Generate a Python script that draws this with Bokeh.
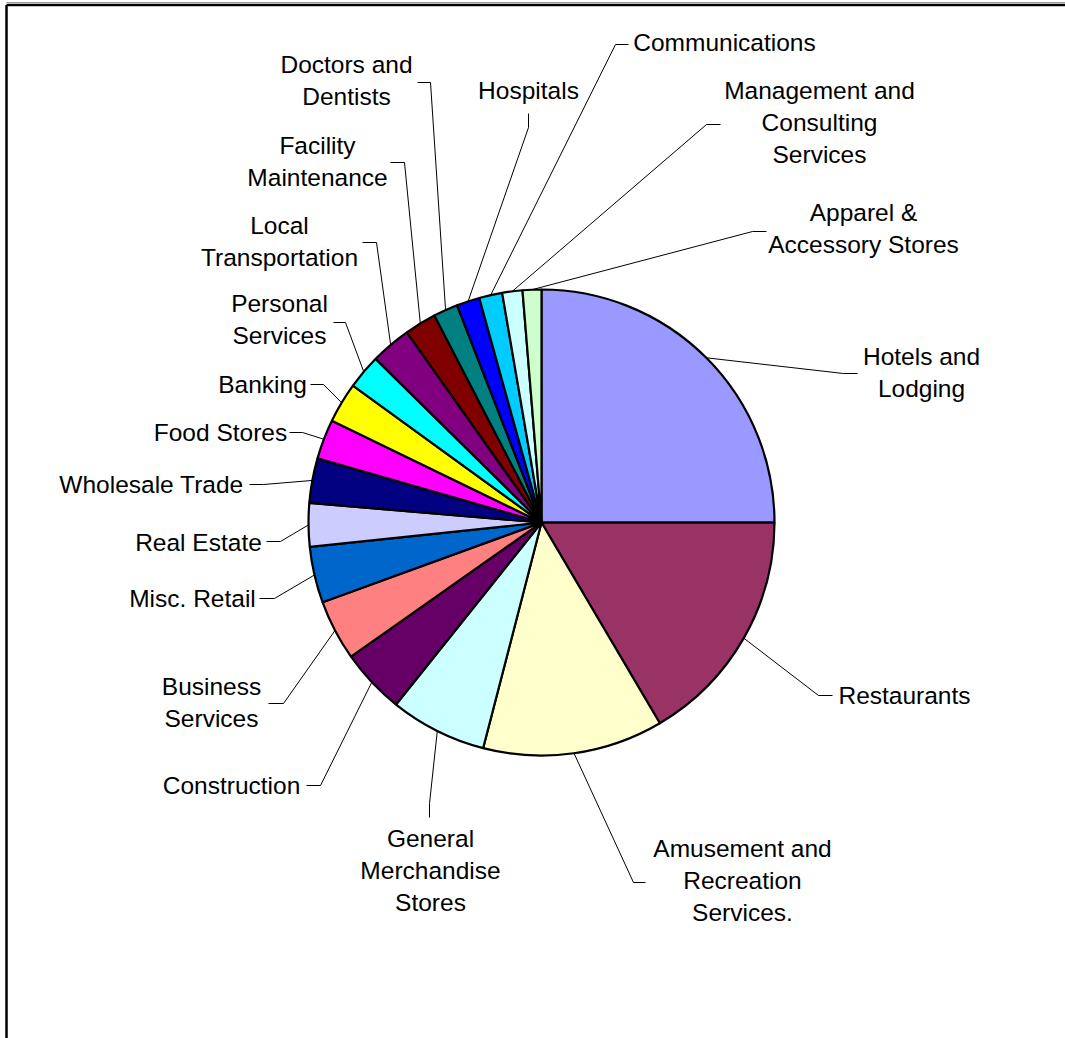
import math
from bokeh.plotting import figure
from bokeh.models import Range1d
from bokeh.core.properties import value
from bokeh.embed import file_html
from bokeh.resources import INLINE

# Share of establishments by industry (percent), clockwise from 12 o'clock
industries = [
    "Hotels and Lodging", "Restaurants", "Amusement and Recreation Services.",
    "General Merchandise Stores", "Construction", "Business Services",
    "Misc. Retail", "Real Estate", "Wholesale Trade", "Food Stores", "Banking",
    "Personal Services", "Local Transportation", "Facility Maintenance",
    "Doctors and Dentists", "Hospitals", "Communications",
    "Management and Consulting Services", "Apparel & Accessory Stores",
]
shares = [25.0, 16.5, 12.5, 6.7, 4.5, 4.2, 3.9, 3.0, 3.1, 2.75, 2.8,
          2.4, 2.8, 2.2, 1.7, 1.6, 1.6, 1.4, 1.3]
colors = ["#9999FF", "#993366", "#FFFFCC", "#CCFFFF", "#660066", "#FF8080",
          "#0066CC", "#CCCCFF", "#000080", "#FF00FF", "#FFFF00", "#00FFFF",
          "#800080", "#800000", "#008080", "#0000FF", "#00CCFF", "#CCFFFF",
          "#CCFFCC"]
label_lines = [
    ["Hotels and", "Lodging"], ["Restaurants"],
    ["Amusement and", "Recreation", "Services."],
    ["General", "Merchandise", "Stores"], ["Construction"],
    ["Business", "Services"], ["Misc. Retail"], ["Real Estate"],
    ["Wholesale Trade"], ["Food Stores"], ["Banking"],
    ["Personal", "Services"], ["Local", "Transportation"],
    ["Facility", "Maintenance"], ["Doctors and", "Dentists"], ["Hospitals"],
    ["Communications"], ["Management and", "Consulting", "Services"],
    ["Apparel &", "Accessory Stores"],
]

# Layout (page pixels, y downward)
W, H = 1065, 1038
CX, CY, R = 541, 522, 233
LINE_H = 32
label_pos = [(921, 356), (904, 695), (742, 848), (430, 838), (231, 785),
             (211, 686), (192, 598), (198, 542), (151, 484), (220, 432),
             (262, 384), (279, 303), (279, 225), (317, 145), (346, 64),
             (528, 90), (724, 42), (819, 90), (863, 212)]
elbows = [(843, 373), (818, 695), (633, 882), (429, 803), (320, 785),
          (283, 703), (274, 598), (280, 541), (263, 484), (302, 432),
          (323, 384), (345, 322), (376, 242), (404, 162), (430, 82),
          (528, 127), (615, 44), (706, 124), (752, 231)]
tails = [(857, 373), (832, 695), (645, 882), (429, 817), (306, 785),
         (268, 703), (259, 598), (266, 541), (249, 484), (289, 432),
         (310, 384), (333, 322), (362, 242), (390, 162), (417, 82),
         (528, 113), (628, 44), (720, 124), (766, 231)]


def fy(y):
    return H - y


p = figure(width=W, height=H, x_range=Range1d(0, W), y_range=Range1d(0, H),
           output_backend="svg", toolbar_location=None, min_border=0)
p.axis.visible = False
p.grid.visible = False
p.outline_line_color = None
p.background_fill_color = "white"

total = sum(shares)
starts, ends, mids = [], [], []
acc = 0.0
for s in shares:
    a0 = acc / total * 2 * math.pi
    acc += s
    a1 = acc / total * 2 * math.pi
    # clockwise from top -> counterclockwise from +x
    starts.append(math.pi / 2 - a1)
    ends.append(math.pi / 2 - a0)
    mids.append((a0 + a1) / 2)

p.wedge(x=[CX] * len(shares), y=[fy(CY)] * len(shares), radius=R,
        start_angle=starts, end_angle=ends, direction="anticlock",
        fill_color=colors, line_color="black", line_width=2.2)

# leader lines
for m, (ex, ey), (tx, ty) in zip(mids, elbows, tails):
    sx = CX + R * math.sin(m)
    sy = CY - R * math.cos(m)
    p.line([sx, ex, tx], [fy(sy), fy(ey), fy(ty)], line_color="black",
           line_width=1)

# labels
xs, ys, txt = [], [], []
for lines, (lx, ly) in zip(label_lines, label_pos):
    for i, t in enumerate(lines):
        xs.append(lx)
        ys.append(fy(ly + i * LINE_H))
        txt.append(t)
p.text(x=xs, y=ys, text=txt, text_align="center", text_baseline="middle",
       text_font=value("Liberation Sans"), text_font_size="24.5px",
       text_color="black")

# chart frame
p.line([6, W], [fy(2), fy(2)], line_color="#999999", line_width=1)
p.line([6, W], [fy(4.5), fy(4.5)], line_color="black", line_width=2.5)
p.line([6, 6], [fy(4.5), 0], line_color="black", line_width=2.5)

open("out.html", "w").write(file_html(p, INLINE))
